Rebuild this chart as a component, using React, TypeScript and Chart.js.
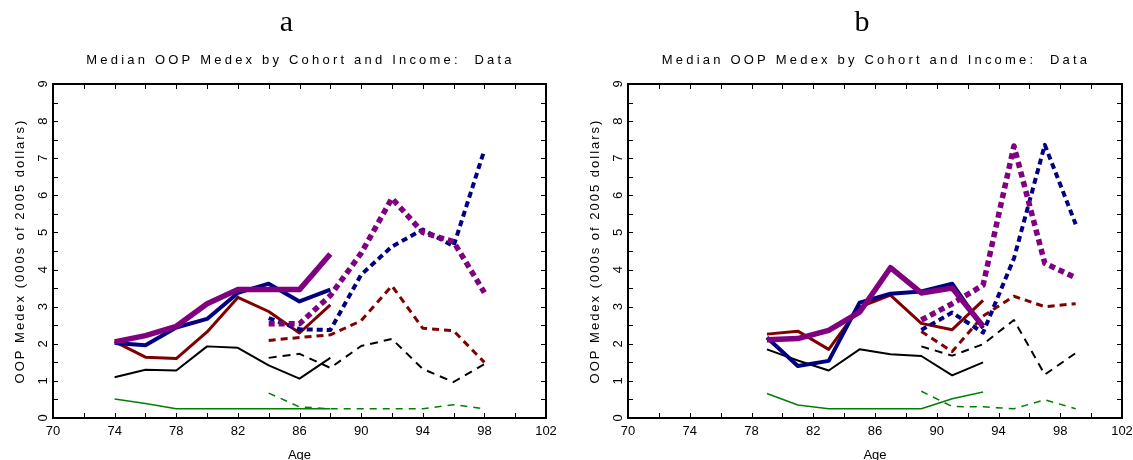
import React, { useEffect, useRef } from "react";
import { Chart, registerables } from "chart.js";

Chart.register(...registerables);

// Axis ticks
const xTicks = [70, 74, 78, 82, 86, 90, 94, 98, 102];
const yTicks = [0, 1, 2, 3, 4, 5, 6, 7, 8, 9];

const chartTitle = "Median OOP Medex by Cohort and Income:  Data";
const yTitle = "OOP Medex (000s of 2005 dollars)";
const xTitle = "Age";

// Panel a: older cohort observed at ages 74-88, younger at 84-98
const agesA1 = [74, 76, 78, 80, 82, 84, 86, 88];
const agesA2 = [84, 86, 88, 90, 92, 94, 96, 98];
const a1Top = [2.05, 2.22, 2.47, 3.08, 3.46, 3.46, 3.46, 4.42];
const a1Fourth = [2.02, 1.96, 2.44, 2.67, 3.37, 3.62, 3.14, 3.46];
const a1Middle = [2.06, 1.64, 1.6, 2.32, 3.25, 2.87, 2.29, 3.05];
const a1Second = [1.1, 1.3, 1.28, 1.93, 1.89, 1.42, 1.06, 1.62];
const a1Bottom = [0.51, 0.39, 0.25, 0.25, 0.25, 0.25, 0.25, 0.25];
const a2Top = [2.54, 2.54, 3.3, 4.44, 5.92, 5.0, 4.75, 3.38];
const a2Fourth = [2.69, 2.39, 2.37, 3.86, 4.62, 5.08, 4.63, 7.22];
const a2Middle = [2.09, 2.17, 2.24, 2.62, 3.56, 2.42, 2.35, 1.5];
const a2Second = [1.62, 1.73, 1.35, 1.94, 2.13, 1.32, 0.97, 1.45];
const a2Bottom = [0.67, 0.3, 0.25, 0.25, 0.25, 0.25, 0.36, 0.25];

// Panel b: ages 79-93 and 89-99
const agesB1 = [79, 81, 83, 85, 87, 89, 91, 93];
const agesB2 = [89, 91, 93, 95, 97, 99];
const b1Top = [2.11, 2.14, 2.36, 2.85, 4.05, 3.37, 3.5, 2.47];
const b1Fourth = [2.17, 1.4, 1.54, 3.11, 3.35, 3.41, 3.62, 2.42];
const b1Middle = [2.26, 2.34, 1.85, 2.99, 3.31, 2.55, 2.38, 3.17];
const b1Second = [1.85, 1.55, 1.28, 1.85, 1.72, 1.67, 1.15, 1.5];
const b1Bottom = [0.66, 0.35, 0.25, 0.25, 0.25, 0.25, 0.52, 0.7];
const b2Top = [2.64, 3.08, 3.58, 7.33, 4.17, 3.78];
const b2Fourth = [2.37, 2.84, 2.3, 4.3, 7.36, 5.22];
const b2Middle = [2.33, 1.79, 2.75, 3.28, 3.0, 3.08];
const b2Second = [1.93, 1.68, 1.99, 2.64, 1.17, 1.75];
const b2Bottom = [0.72, 0.31, 0.3, 0.25, 0.49, 0.25];

const colors = ["#800080", "#000080", "#800000", "#000000", "#008000"];
const widths = [5.5, 4, 3, 2, 1.5];
const dashes = [
  [6, 4],
  [6, 4],
  [7, 5],
  [8, 6],
  [7, 6],
];

type Pt = { x: number; y: number };
const pts = (ages: number[], vals: number[]): Pt[] =>
  ages.map((x, i) => ({ x, y: vals[i] }));

function buildDatasets(
  ages1: number[],
  solid: number[][],
  ages2: number[],
  dashed: number[][]
) {
  const sets: any[] = [];
  for (let k = 0; k < 5; k++) {
    sets.push({
      data: pts(ages1, solid[k]),
      borderColor: colors[k],
      borderWidth: widths[k],
      borderJoinStyle: "round",
      pointRadius: 0,
      fill: false,
      tension: 0,
    });
    sets.push({
      data: pts(ages2, dashed[k]),
      borderColor: colors[k],
      borderWidth: widths[k],
      borderDash: dashes[k],
      borderJoinStyle: "round",
      pointRadius: 0,
      fill: false,
      tension: 0,
    });
  }
  return sets;
}

const framePlugin = {
  id: "frame",
  afterDraw(chart: any, _args: any, opts: any) {
    const { ctx } = chart;
    const { left, top, right, bottom } = chart.chartArea;
    const xs = chart.scales.x;
    const ys = chart.scales.y;
    ctx.save();
    ctx.strokeStyle = "#000";
    ctx.lineWidth = 2;
    ctx.strokeRect(left, top, right - left, bottom - top);
    ctx.lineWidth = 1;
    ctx.beginPath();
    for (let v = xs.min; v <= xs.max; v += 2) {
      const px = Math.round(xs.getPixelForValue(v)) + 0.5;
      ctx.moveTo(px, bottom);
      ctx.lineTo(px, bottom - 5);
      ctx.moveTo(px, top);
      ctx.lineTo(px, top + 5);
    }
    for (let v = ys.min; v <= ys.max; v += 0.5) {
      const py = Math.round(ys.getPixelForValue(v)) + 0.5;
      ctx.moveTo(left, py);
      ctx.lineTo(left + 5, py);
      ctx.moveTo(right, py);
      ctx.lineTo(right - 5, py);
    }
    ctx.stroke();

    const cx = (left + right) / 2;
    ctx.fillStyle = "#000";
    ctx.textAlign = "center";

    ctx.font = '30px "Liberation Serif"';
    ctx.textBaseline = "alphabetic";
    ctx.fillText(opts.heading, cx - 13, 31);

    ctx.textBaseline = "middle";
    ctx.font = '13px "Liberation Sans"';
    ctx.letterSpacing = "3.2px";
    ctx.fillText(chartTitle, cx + 1, 60);

    ctx.letterSpacing = "2px";
    ctx.save();
    ctx.translate(left - 33, (top + bottom) / 2);
    ctx.rotate(-Math.PI / 2);
    ctx.fillText(yTitle, 0, 0);
    ctx.restore();

    ctx.letterSpacing = "0px";
    ctx.fillText(xTitle, cx, 455);
    ctx.restore();
  },
};

function Panel(props: {
  heading: string;
  left: number;
  width: number;
  axisWidth: number;
  rightPad: number;
  datasets: any[];
}) {
  const ref = useRef<HTMLCanvasElement | null>(null);
  useEffect(() => {
    if (!ref.current) return;
    const chart = new Chart(ref.current, {
      type: "line",
      data: { datasets: props.datasets },
      plugins: [framePlugin],
      options: {
        animation: false,
        responsive: false,
        devicePixelRatio: 1,
        events: [],
        layout: {
          autoPadding: false,
          padding: { left: 0, right: props.rightPad, top: 84, bottom: 0 },
        },
        plugins: {
          legend: { display: false },
          tooltip: { enabled: false },
          title: { display: false },
          frame: { heading: props.heading },
        } as any,
        scales: {
          x: {
            type: "linear",
            min: 70,
            max: 102,
            grid: { display: false, drawTicks: false },
            border: { display: false },
            ticks: {
              padding: 6,
              color: "#000",
              font: { family: '"Liberation Sans"', size: 13 },
              maxRotation: 0,
            },
            afterBuildTicks: (s: any) => {
              s.ticks = xTicks.map((value) => ({ value }));
            },
            afterFit: (s: any) => {
              s.height = 42;
              s.paddingLeft = 0;
              s.paddingRight = 0;
            },
          },
          y: {
            type: "linear",
            min: 0,
            max: 9,
            grid: { display: false, drawTicks: false },
            border: { display: false },
            ticks: {
              padding: 6,
              color: "#000",
              crossAlign: "center",
              minRotation: 90,
              maxRotation: 90,
              font: { family: '"Liberation Sans"', size: 13 },
            },
            afterBuildTicks: (s: any) => {
              s.ticks = yTicks.map((value) => ({ value }));
            },
            afterFit: (s: any) => {
              s.width = props.axisWidth;
              s.paddingTop = 0;
              s.paddingBottom = 0;
            },
          },
        },
      } as any,
    });
    return () => chart.destroy();
  }, []);
  return (
    <canvas
      ref={ref}
      width={props.width}
      height={460}
      style={{ position: "absolute", left: props.left, top: 0, width: props.width, height: 460 }}
    />
  );
}

export default function App() {
  const setsA = buildDatasets(
    agesA1,
    [a1Top, a1Fourth, a1Middle, a1Second, a1Bottom],
    agesA2,
    [a2Top, a2Fourth, a2Middle, a2Second, a2Bottom]
  );
  const setsB = buildDatasets(
    agesB1,
    [b1Top, b1Fourth, b1Middle, b1Second, b1Bottom],
    agesB2,
    [b2Top, b2Fourth, b2Middle, b2Second, b2Bottom]
  );
  return (
    <div
      style={{
        position: "fixed",
        left: 0,
        top: 0,
        width: 1133,
        height: 460,
        background: "#fff",
        overflow: "hidden",
      }}
    >
      <Panel heading="a" left={0} width={566} axisWidth={53} rightPad={20} datasets={setsA} />
      <Panel heading="b" left={566} width={567} axisWidth={62} rightPad={11} datasets={setsB} />
    </div>
  );
}
